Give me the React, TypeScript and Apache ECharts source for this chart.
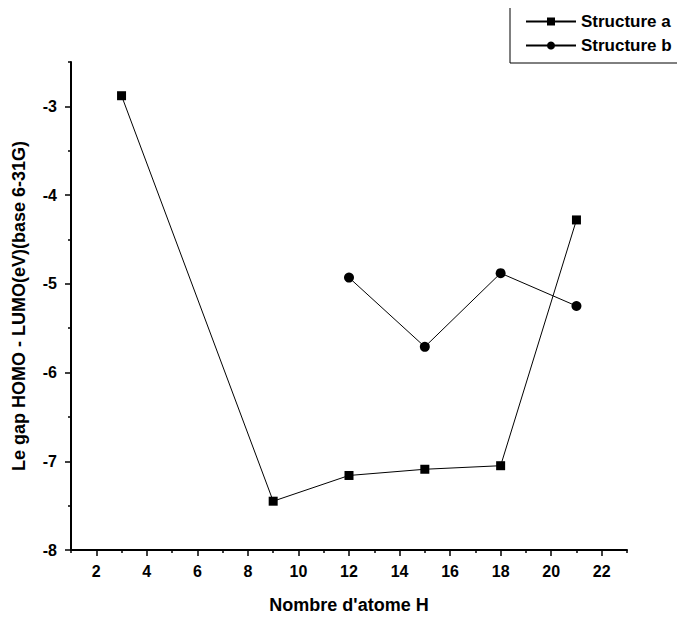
import React, { useEffect, useRef } from "react";
import * as echarts from "echarts";

// Number of H atoms for each structure
const xA = [3, 9, 12, 15, 18, 21];
const gapA = [-2.88, -7.45, -7.16, -7.09, -7.05, -4.28];

const xB = [12, 15, 18, 21];
const gapB = [-4.93, -5.71, -4.88, -5.25];

const xMajorTicks = [2, 4, 6, 8, 10, 12, 14, 16, 18, 20, 22];
const xMinorTicks = [1, 3, 5, 7, 9, 11, 13, 15, 17, 19, 21, 23];
const yMajorTicks = [-8, -7, -6, -5, -4, -3];
const yMinorTicks = [-7.5, -6.5, -5.5, -4.5, -3.5, -2.5];

const FONT = "Liberation Sans, Arial, sans-serif";

export default function App() {
  const ref = useRef<HTMLDivElement>(null);

  useEffect(() => {
    if (!ref.current) return;
    const chart = echarts.init(ref.current, undefined, { renderer: "svg" });
    const axisLine = { show: true, lineStyle: { color: "#000", width: 2 } };
    const tickStyle = { color: "#000", width: 1.5 };
    const labelStyle = { fontFamily: FONT, fontSize: 16, fontWeight: "bold", color: "#000" };
    const nameStyle = { fontFamily: FONT, fontSize: 18, fontWeight: "bold", color: "#000" };
    chart.setOption({
      animation: false,
      backgroundColor: "#fff",
      grid: { left: 71, top: 62, right: 58, bottom: 76 },
      legend: {
        orient: "vertical",
        left: 510,
        top: 4,
        padding: [9, 17, 9, 15],
        itemGap: 7,
        itemWidth: 50,
        itemHeight: 10,
        borderColor: "#000",
        borderWidth: 1,
        textStyle: { fontFamily: FONT, fontSize: 17, fontWeight: "bold", color: "#000" },
        data: ["Structure a", "Structure b"],
      },
      xAxis: [
        {
          type: "value",
          min: 1,
          max: 23,
          interval: 1,
          name: "Nombre d'atome H",
          nameLocation: "middle",
          nameGap: 46,
          nameTextStyle: nameStyle,
          axisLine,
          axisTick: { show: true, length: 6, customValues: xMajorTicks, lineStyle: tickStyle },
          axisLabel: { ...labelStyle, customValues: xMajorTicks, margin: 13 },
          splitLine: { show: false },
        },
        {
          type: "value",
          min: 1,
          max: 23,
          interval: 1,
          position: "bottom",
          axisLine: { show: false },
          axisTick: { show: true, length: 3, customValues: xMinorTicks, lineStyle: tickStyle },
          axisLabel: { show: false },
          splitLine: { show: false },
        },
      ],
      yAxis: [
        {
          type: "value",
          min: -8,
          max: -2.5,
          interval: 1,
          name: "Le gap HOMO - LUMO(eV)(base 6-31G)",
          nameLocation: "middle",
          nameGap: 43,
          nameTextStyle: nameStyle,
          axisLine,
          axisTick: { show: true, length: 6, customValues: yMajorTicks, lineStyle: tickStyle },
          axisLabel: { ...labelStyle, customValues: yMajorTicks, margin: 14 },
          splitLine: { show: false },
        },
        {
          type: "value",
          min: -8,
          max: -2.5,
          interval: 1,
          position: "left",
          axisLine: { show: false },
          axisTick: { show: true, length: 3, customValues: yMinorTicks, lineStyle: tickStyle },
          axisLabel: { show: false },
          splitLine: { show: false },
        },
      ],
      series: [
        {
          name: "Structure a",
          type: "line",
          xAxisIndex: 0,
          yAxisIndex: 0,
          data: xA.map((x, i) => [x, gapA[i]]),
          symbol: "rect",
          symbolSize: 9,
          itemStyle: { color: "#000" },
          lineStyle: { color: "#000", width: 1 },
        },
        {
          name: "Structure b",
          type: "line",
          xAxisIndex: 0,
          yAxisIndex: 0,
          data: xB.map((x, i) => [x, gapB[i]]),
          symbol: "circle",
          symbolSize: 10,
          itemStyle: { color: "#000" },
          lineStyle: { color: "#000", width: 1 },
        },
      ],
    });
    return () => chart.dispose();
  }, []);

  return <div ref={ref} style={{ width: 685, height: 626, margin: -8 }} />;
}
